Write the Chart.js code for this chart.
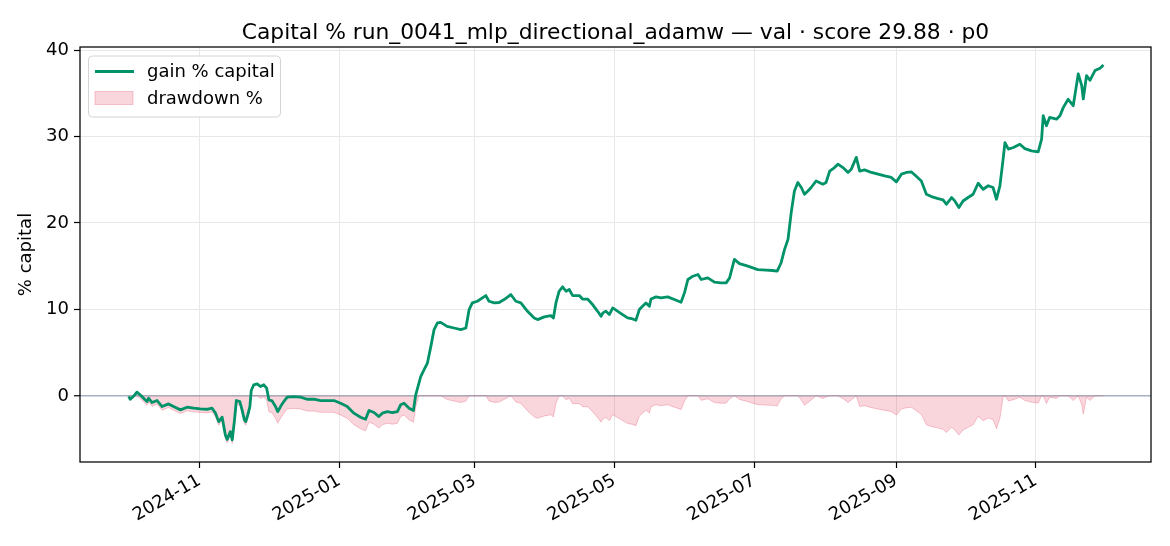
<!DOCTYPE html>
<html><head><meta charset="utf-8">
<script src="https://cdn.jsdelivr.net/npm/chart.js@4.4.1/dist/chart.umd.min.js"></script>
<style>html,body{margin:0;padding:0;background:#fff;}#wrap{width:1170px;height:546px;}</style>
</head><body><div id="wrap"><canvas id="c" width="1170" height="546"></canvas></div>
<script>
// x values: days since 2024-11-01
const days = [-31.0,-30.3,-28.9,-27.4,-25.9,-24.5,-23.0,-22.3,-20.8,-18.6,-16.4,-13.6,-11.4,-8.4,-5.5,-2.6,0.3,3.2,5.4,6.9,8.3,9.8,11.2,12.0,13.4,14.2,15.2,16.0,17.5,18.5,19.5,20.1,21.0,21.9,22.5,23.6,25.1,26.5,28.0,29.2,30.2,31.6,33.1,34.1,35.3,36.7,38.2,41.1,44.0,46.9,49.8,52.8,55.7,58.6,61.5,64.4,67.3,70.2,72.4,73.9,76.1,78.2,79.7,81.9,84.1,86.3,87.7,89.2,91.4,93.3,94.3,95.7,96.5,97.9,99.4,100.9,102.3,103.8,105.2,108.0,111.0,114.0,116.2,117.6,119.0,121.2,123.4,124.9,126.3,128.6,130.7,132.9,135.8,138.0,140.2,143.1,146.0,147.5,150.4,153.3,154.4,155.5,156.9,158.4,159.9,161.3,162.8,165.7,167.1,169.3,171.5,173.7,175.2,176.0,177.3,178.8,180.3,182.5,184.6,186.8,189.0,190.4,191.9,193.3,194.8,196.3,197.0,199.2,201.4,204.3,207.2,210.1,211.6,213.1,215.3,217.5,218.9,221.8,224.7,227.6,229.8,231.3,233.4,235.6,239.3,243.6,247.3,250.0,252.1,253.8,255.3,256.8,258.2,259.6,261.1,262.6,264.0,265.5,266.9,269.1,272.0,273.4,275.0,277.1,278.6,280.8,283.0,284.4,286.6,288.1,290.2,293.2,296.1,299.0,301.9,304.1,306.3,308.5,310.7,312.9,315.0,317.2,319.4,322.3,324.5,325.9,328.2,329.6,331.4,333.2,335.4,337.6,339.8,342.0,344.2,346.3,347.8,349.3,350.7,351.5,353.0,355.2,358.0,360.2,363.1,366.0,367.5,368.2,369.6,371.0,374.0,375.5,377.0,379.1,381.3,383.5,385.0,385.7,387.1,388.6,390.8,393.0,394.5];
const gain = [-0.08,-0.4,-0.05,0.43,0.1,-0.27,-0.66,-0.27,-0.77,-0.54,-1.24,-0.93,-1.24,-1.62,-1.31,-1.43,-1.5,-1.55,-1.43,-2.0,-2.98,-2.47,-4.52,-5.03,-4.14,-5.1,-2.78,-0.54,-0.66,-1.62,-2.78,-2.98,-2.2,-1.24,0.62,1.28,1.39,1.08,1.28,0.9,-0.46,-0.58,-1.24,-1.82,-1.24,-0.66,-0.15,-0.08,-0.15,-0.39,-0.39,-0.54,-0.54,-0.54,-0.85,-1.24,-2.0,-2.47,-2.7,-1.7,-1.93,-2.4,-2.0,-1.82,-1.93,-1.82,-1.04,-0.85,-1.43,-1.7,0.12,1.47,2.24,3.0,3.79,5.72,7.66,8.43,8.5,8.04,7.85,7.66,7.85,9.98,10.75,10.94,11.33,11.6,10.94,10.75,10.8,11.14,11.72,10.94,10.75,9.78,9.01,8.82,9.13,9.28,9.0,10.75,12.1,12.61,12.1,12.3,11.6,11.6,11.2,11.2,10.56,9.78,9.2,9.6,9.8,9.4,10.17,9.78,9.4,9.01,8.9,8.74,9.98,10.36,10.75,10.36,11.2,11.45,11.33,11.45,11.14,10.83,11.91,13.46,13.84,14.04,13.46,13.65,13.15,13.07,13.07,13.65,15.78,15.3,15.0,14.6,14.54,14.5,14.42,15.4,16.94,18.1,21.2,23.7,24.68,24.1,23.32,23.7,24.1,24.86,24.48,24.68,26.0,26.4,26.8,26.4,25.84,26.2,27.58,26.0,26.14,25.84,25.64,25.44,25.26,24.75,25.64,25.84,25.9,25.37,24.86,23.32,23.05,22.82,22.66,22.16,22.94,22.55,21.78,22.54,22.94,23.32,24.59,23.9,24.3,24.1,22.74,24.28,27.38,29.3,28.54,28.73,29.1,28.6,28.34,28.22,29.7,32.4,31.24,32.2,32.0,32.4,33.37,34.3,33.56,37.24,35.88,34.34,37.04,36.5,37.62,37.9,38.28];
const drawdown = [0,-0.32,0,0,-0.33,-0.7,-1.08,-0.7,-1.2,-0.97,-1.66,-1.35,-1.66,-2.04,-1.73,-1.85,-1.92,-1.97,-1.85,-2.42,-3.39,-2.89,-4.93,-5.44,-4.55,-5.51,-3.2,-0.97,-1.08,-2.04,-3.2,-3.4,-2.62,-1.66,0,0,0,-0.31,-0.11,-0.48,-1.83,-1.94,-2.6,-3.17,-2.6,-2.02,-1.52,-1.45,-1.52,-1.76,-1.76,-1.91,-1.91,-1.91,-2.21,-2.6,-3.34,-3.81,-4.03,-3.05,-3.28,-3.74,-3.34,-3.17,-3.28,-3.17,-2.4,-2.21,-2.78,-3.05,-1.25,0,0,0,0,0,0,0,0,-0.42,-0.6,-0.77,-0.6,0,0,0,0,0,-0.59,-0.76,-0.72,-0.41,0,-0.7,-0.87,-1.74,-2.43,-2.6,-2.32,-2.19,-2.44,-0.87,0,0,-0.45,-0.28,-0.9,-0.9,-1.26,-1.26,-1.83,-2.52,-3.04,-2.68,-2.5,-2.86,-2.18,-2.52,-2.86,-3.2,-3.3,-3.45,-2.35,-2.0,-1.66,-2.0,-1.26,-1.03,-1.14,-1.03,-1.31,-1.58,-0.62,0,0,0,-0.51,-0.34,-0.78,-0.85,-0.85,-0.34,0,-0.41,-0.67,-1.02,-1.07,-1.1,-1.18,-0.33,0,0,0,0,0,-0.47,-1.09,-0.79,-0.47,0,-0.3,-0.14,0,0,0,-0.32,-0.76,-0.47,0,-1.24,-1.13,-1.37,-1.52,-1.68,-1.82,-2.22,-1.52,-1.37,-1.32,-1.74,-2.14,-3.34,-3.55,-3.73,-3.86,-4.25,-3.64,-3.94,-4.54,-3.95,-3.64,-3.34,-2.35,-2.89,-2.57,-2.73,-3.79,-2.59,-0.16,0,-0.59,-0.44,-0.16,-0.54,-0.74,-0.83,0,0,-0.88,-0.15,-0.3,0,0,0,-0.55,0,-0.99,-2.11,-0.15,-0.54,0,0,0];
const tickLabels = ['2024-11','2025-01','2025-03','2025-05','2025-07','2025-09','2025-11'];
const yTicks = [0,10,20,30,40];
const titleText = 'Capital % run_0041_mlp_directional_adamw \u2014 val \u00b7 score 29.88 \u00b7 p0';

const ORIGIN = Date.UTC(2024,10,1);
const tickDays = tickLabels.map(s => {
  const [y,m] = s.split('-').map(Number);
  return (Date.UTC(y, m-1, 1) - ORIGIN) / 86400000;
});

const FONT = 'DejaVu Sans';
const GREEN = '#009268';

const framePlugin = {
  id: 'frame',
  afterDraw(chart) {
    const {ctx, chartArea: a} = chart;
    ctx.save();
    ctx.strokeStyle = '#000';
    ctx.lineWidth = 1.25;
    ctx.strokeRect(a.left, a.top, a.right - a.left, a.bottom - a.top);
    // title centred over the plot area
    ctx.font = '21.8px "' + FONT + '"';
    ctx.fillStyle = '#000';
    ctx.textAlign = 'center';
    ctx.textBaseline = 'alphabetic';
    ctx.fillText(titleText, (a.left + a.right) / 2, 38.5);
    // legend
    const x0 = a.left + 8.5, y0 = a.top + 9, w = 192, h = 61, r = 4;
    ctx.beginPath();
    ctx.moveTo(x0 + r, y0);
    ctx.arcTo(x0 + w, y0, x0 + w, y0 + h, r);
    ctx.arcTo(x0 + w, y0 + h, x0, y0 + h, r);
    ctx.arcTo(x0, y0 + h, x0, y0, r);
    ctx.arcTo(x0, y0, x0 + w, y0, r);
    ctx.closePath();
    ctx.fillStyle = 'rgba(255,255,255,0.85)';
    ctx.fill();
    ctx.strokeStyle = '#d4d4d4';
    ctx.lineWidth = 1;
    ctx.stroke();
    const ds = chart.data.datasets;
    ctx.font = '18px "' + FONT + '"';
    ctx.textBaseline = 'middle';
    ctx.textAlign = 'left';
    ctx.strokeStyle = ds[0].borderColor;
    ctx.lineWidth = 2.8;
    ctx.beginPath();
    ctx.moveTo(x0 + 6.5, y0 + 15.5);
    ctx.lineTo(x0 + 45.5, y0 + 15.5);
    ctx.stroke();
    ctx.fillStyle = '#000';
    ctx.fillText(ds[0].label, x0 + 58.5, y0 + 16);
    ctx.fillStyle = ds[1].backgroundColor;
    ctx.fillRect(x0 + 6.5, y0 + 35.5, 38, 13);
    ctx.strokeStyle = ds[1].borderColor;
    ctx.lineWidth = 1;
    ctx.strokeRect(x0 + 6.5, y0 + 35.5, 38, 13);
    ctx.fillStyle = '#000';
    ctx.fillText(ds[1].label, x0 + 58.5, y0 + 43);
    ctx.restore();
  }
};

const gainPts = days.map((d, i) => ({x: d, y: gain[i]}));
const ddPts = days.map((d, i) => ({x: d, y: drawdown[i]}));

new Chart(document.getElementById('c'), {
  type: 'line',
  data: {
    datasets: [
      {label: 'gain % capital', data: gainPts, borderColor: GREEN, borderWidth: 2.8, pointRadius: 0, tension: 0, fill: false, order: 0, borderJoinStyle: 'round'},
      {label: 'drawdown %', data: ddPts, borderColor: 'rgba(220,20,60,0.22)', backgroundColor: 'rgba(220,20,60,0.18)', borderWidth: 1, pointRadius: 0, tension: 0, fill: 'origin', order: 1}
    ]
  },
  options: {
    responsive: false,
    animation: false,
    devicePixelRatio: 1,
    layout: {padding: {left: 0, right: 19, top: 47, bottom: 0}},
    plugins: {
      legend: {display: false},
      tooltip: {enabled: false},
      title: {display: false}
    },
    scales: {
      x: {
        type: 'linear', min: -52.25, max: 415.25,
        afterFit(s) { s.height = 84; },
        afterBuildTicks(s) { s.ticks = tickDays.map(v => ({value: v})); },
        border: {display: false},
        grid: {color: '#e8e8e8', lineWidth: 1, tickColor: '#000', tickLength: 6, tickWidth: 1.2},
        ticks: {autoSkip: false, minRotation: 30, maxRotation: 30, padding: 2, color: '#000', font: {family: FONT, size: 18},
          callback: (v, i) => tickLabels[i]}
      },
      y: {
        min: -7.65, max: 40.35,
        afterFit(s) { s.width = 80; },
        afterBuildTicks(s) { s.ticks = yTicks.map(v => ({value: v})); },
        border: {display: false},
        grid: {color: c => (c.tick && c.tick.value === 0) ? 'rgba(120,135,160,0.65)' : '#e8e8e8',
               lineWidth: c => (c.tick && c.tick.value === 0) ? 1.5 : 1,
               tickColor: '#000', tickLength: 6, tickWidth: 1.2},
        ticks: {padding: 5, color: '#000', font: {family: FONT, size: 18}, callback: v => String(v)},
        title: {display: true, text: '% capital', color: '#000', font: {family: FONT, size: 18}, padding: {top: 16, bottom: 0}}
      }
    }
  },
  plugins: [framePlugin]
});
</script></body></html>
